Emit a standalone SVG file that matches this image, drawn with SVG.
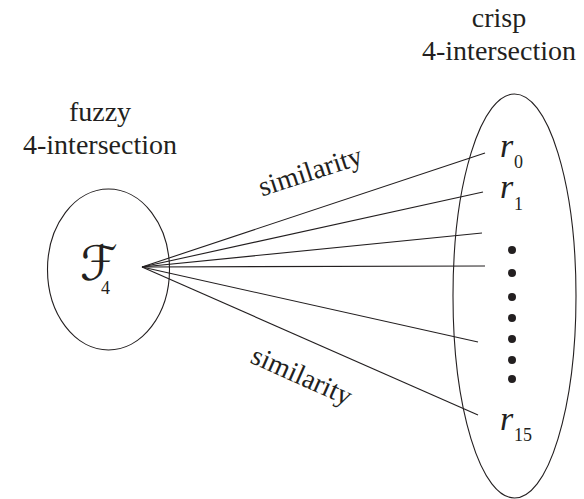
<svg xmlns="http://www.w3.org/2000/svg" width="584" height="499" viewBox="0 0 584 499">
<style>
text{font-family:'Liberation Serif','DejaVu Serif',serif;fill:#231f20}
.lbl{font-size:28px;text-anchor:middle}
.r{font-style:italic;font-size:34px}
.sub{font-size:18px}
.shape{fill:none;stroke:#231f20;stroke-width:1.1}
.edge{stroke:#231f20;stroke-width:1.1;fill:none}
.dot{fill:#231f20}
</style>
<rect width="584" height="499" fill="#fff"/>
<g id="fuzzy">
<ellipse class="shape" cx="108.5" cy="269.5" rx="61" ry="80.5"/>
<text class="lbl" x="100" y="121">fuzzy</text>
<text class="lbl" x="100" y="154">4-intersection</text>
<text x="80" y="280" style="font-family:'DejaVu Sans',sans-serif;font-size:48px">ℱ</text>
<text class="sub" x="101" y="294">4</text>
</g>
<g id="crisp">
<ellipse class="shape" cx="514.5" cy="296" rx="61.5" ry="202"/>
<text class="lbl" x="499" y="27">crisp</text>
<text class="lbl" x="499" y="60">4-intersection</text>
<text class="r" x="500" y="157">r</text>
<text class="sub" x="514" y="168">0</text>
<text class="r" x="500" y="198">r</text>
<text class="sub" x="514" y="210">1</text>
<text class="r" x="500" y="430">r</text>
<text class="sub" x="514" y="441">15</text>
<circle class="dot" cx="512" cy="250" r="4"/>
<circle class="dot" cx="512" cy="273" r="4"/>
<circle class="dot" cx="512" cy="297" r="4"/>
<circle class="dot" cx="512" cy="318" r="4"/>
<circle class="dot" cx="512" cy="339" r="4"/>
<circle class="dot" cx="512" cy="360" r="4"/>
<circle class="dot" cx="512" cy="379" r="4"/>
</g>
<g id="connectors">
<line class="edge" x1="142" y1="267" x2="485" y2="153"/>
<line class="edge" x1="142" y1="267" x2="483" y2="192"/>
<line class="edge" x1="142" y1="267" x2="482" y2="233"/>
<line class="edge" x1="142" y1="267" x2="485" y2="266"/>
<line class="edge" x1="142" y1="267" x2="478" y2="342"/>
<line class="edge" x1="142" y1="267" x2="478" y2="415"/>
<text class="lbl" transform="translate(313,180) rotate(-18)">similarity</text>
<text class="lbl" transform="translate(298,384) rotate(24)">similarity</text>
</g>
</svg>
